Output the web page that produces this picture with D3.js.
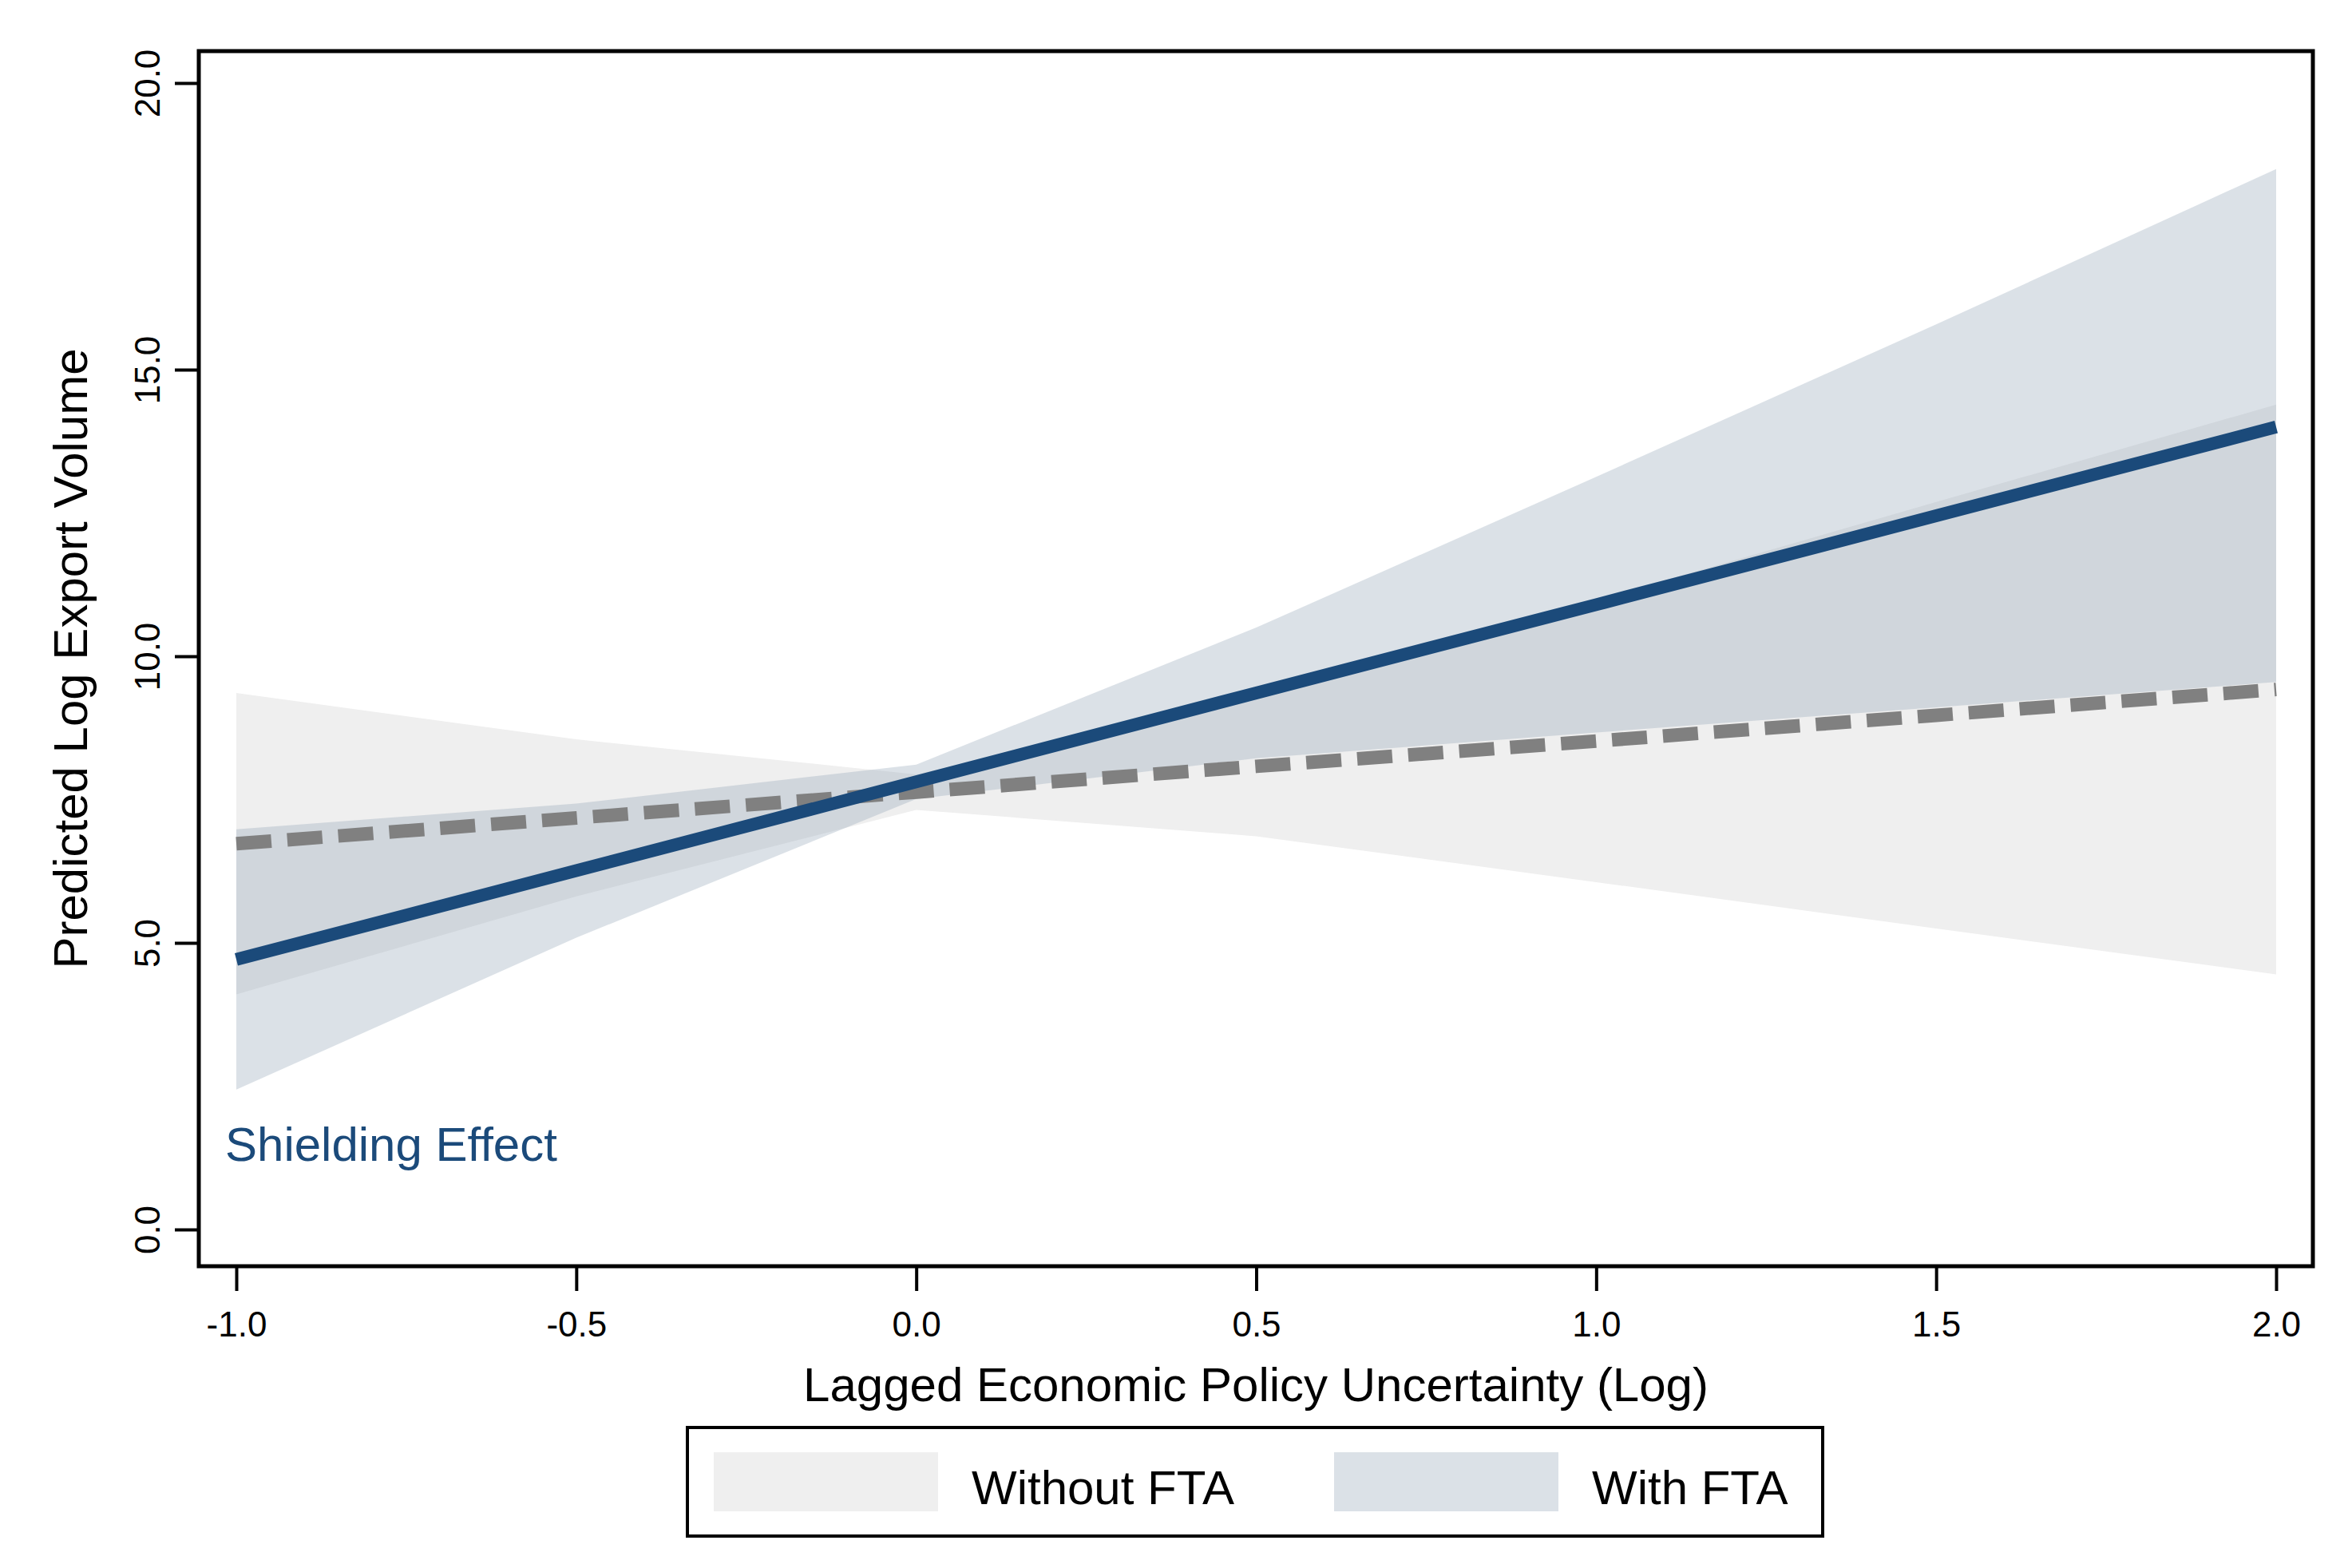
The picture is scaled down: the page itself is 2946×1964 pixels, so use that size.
<!DOCTYPE html>
<html>
<head>
<meta charset="utf-8">
<script src="https://cdn.jsdelivr.net/npm/d3@7"></script>
<style>
  html, body { margin: 0; padding: 0; background: #fff; }
</style>
</head>
<body>
<div id="chart"></div>
<script>
// margins evaluated at these EPU values
const xPoints = [-1.0, -0.5, 0.0, 0.5, 1.0, 1.5, 2.0];

// Without FTA: prediction and 95% band
const withoutFit = [6.73, 7.18, 7.63, 8.08, 8.52, 8.97, 9.42];
const withoutLower = [4.10, 5.81, 7.32, 6.86, 6.06, 5.25, 4.45];
const withoutUpper = [9.36, 8.55, 7.94, 9.30, 10.98, 12.69, 14.39];

// With FTA: prediction and 95% band
const withFit = [4.71, 6.26, 7.81, 9.36, 10.90, 12.45, 14.00];
const withLower = [2.44, 5.09, 7.51, 8.22, 8.67, 9.11, 9.55];
const withUpper = [6.98, 7.43, 8.11, 10.50, 13.13, 15.79, 18.50];

const xTicks = [-1.0, -0.5, 0.0, 0.5, 1.0, 1.5, 2.0];
const yTicks = [0, 5, 10, 15, 20];
const legendLabels = ['Without FTA', 'With FTA'];
const legendColors = ['#efefef', '#dbe1e7'];

const width = 2946;
const height = 1964;
const frame = { left: 249, right: 2897, top: 64, bottom: 1586 };
const font = '"Liberation Sans", Arial, Helvetica, sans-serif';
const navy = '#1b4a7a';

const svg = d3.select('#chart')
  .append('svg')
  .attr('width', width)
  .attr('height', height)
  .attr('viewBox', `0 0 ${width} ${height}`)
  .style('display', 'block')
  .style('background', '#fff');

const x = d3.scaleLinear().domain([-1, 2]).range([296, 2851]);
const y = d3.scaleLinear().domain([0, 20]).range([1540, 104]);

const rows = (fit, lo, hi) => xPoints.map((v, i) => ({ x: v, fit: fit[i], lo: lo[i], hi: hi[i] }));
const withoutRows = rows(withoutFit, withoutLower, withoutUpper);
const withRows = rows(withFit, withLower, withUpper);

const area = d3.area()
  .x((d) => x(d.x))
  .y0((d) => y(d.lo))
  .y1((d) => y(d.hi));

const line = d3.line()
  .x((d) => x(d.x))
  .y((d) => y(d.fit));

const plot = svg.append('g');

plot.append('path')
  .datum(withoutRows)
  .attr('d', area)
  .attr('fill', '#efefef');

plot.append('path')
  .datum(withRows)
  .attr('d', area)
  .attr('fill', 'rgb(147,165,183)')
  .attr('fill-opacity', 0.33);

plot.append('path')
  .datum(withoutRows)
  .attr('d', line)
  .attr('fill', 'none')
  .attr('stroke', '#808080')
  .attr('stroke-width', 17)
  .attr('stroke-dasharray', '44 20');

plot.append('path')
  .datum(withRows)
  .attr('d', line)
  .attr('fill', 'none')
  .attr('stroke', navy)
  .attr('stroke-width', 16);

plot.append('text')
  .attr('x', x(-1) - 14)
  .attr('y', y(1.2))
  .attr('font-family', font)
  .attr('font-size', 60)
  .attr('fill', navy)
  .text('Shielding Effect');

// axes
const xAxis = svg.append('g')
  .attr('transform', `translate(0, ${frame.bottom})`)
  .call(d3.axisBottom(x).tickValues(xTicks).tickFormat((d) => d.toFixed(1)).tickSize(31));
xAxis.select('.domain').remove();
xAxis.selectAll('line').attr('stroke', '#000').attr('stroke-width', 4);
xAxis.selectAll('text')
  .attr('y', 88)
  .attr('dy', null)
  .attr('fill', '#000')
  .attr('font-family', font)
  .attr('font-size', 44);

const yAxis = svg.append('g')
  .attr('transform', `translate(${frame.left}, 0)`)
  .call(d3.axisLeft(y).tickValues(yTicks).tickFormat((d) => d.toFixed(1)).tickSize(30));
yAxis.select('.domain').remove();
yAxis.selectAll('line').attr('stroke', '#000').attr('stroke-width', 4);
yAxis.selectAll('text')
  .attr('x', null)
  .attr('dy', null)
  .attr('text-anchor', 'middle')
  .attr('transform', 'translate(-49, 0) rotate(-90)')
  .attr('fill', '#000')
  .attr('font-family', font)
  .attr('font-size', 44);

// plot frame
svg.append('rect')
  .attr('x', frame.left)
  .attr('y', frame.top)
  .attr('width', frame.right - frame.left)
  .attr('height', frame.bottom - frame.top)
  .attr('fill', 'none')
  .attr('stroke', '#000')
  .attr('stroke-width', 5);

svg.append('text')
  .attr('x', (frame.left + frame.right) / 2)
  .attr('y', 1755)
  .attr('text-anchor', 'middle')
  .attr('font-family', font)
  .attr('font-size', 60)
  .attr('fill', '#000')
  .text('Lagged Economic Policy Uncertainty (Log)');

svg.append('text')
  .attr('transform', `translate(109, ${(frame.top + frame.bottom) / 2}) rotate(-90)`)
  .attr('text-anchor', 'middle')
  .attr('font-family', font)
  .attr('font-size', 60)
  .attr('fill', '#000')
  .text('Predicted Log Export Volume');

// legend
const legend = svg.append('g');
legend.append('rect')
  .attr('x', 861)
  .attr('y', 1788)
  .attr('width', 1422)
  .attr('height', 136)
  .attr('fill', '#fff')
  .attr('stroke', '#000')
  .attr('stroke-width', 4);

const items = legend.selectAll('g.item')
  .data(legendLabels)
  .join('g')
  .attr('class', 'item')
  .attr('transform', (d, i) => `translate(${894 + i * 777}, 0)`);

items.append('rect')
  .attr('x', 0)
  .attr('y', 1819)
  .attr('width', 281)
  .attr('height', 74)
  .attr('fill', (d, i) => legendColors[i]);

items.append('text')
  .attr('x', 323)
  .attr('y', 1884)
  .attr('font-family', font)
  .attr('font-size', 60)
  .attr('fill', '#000')
  .text((d) => d);
</script>
</body>
</html>
